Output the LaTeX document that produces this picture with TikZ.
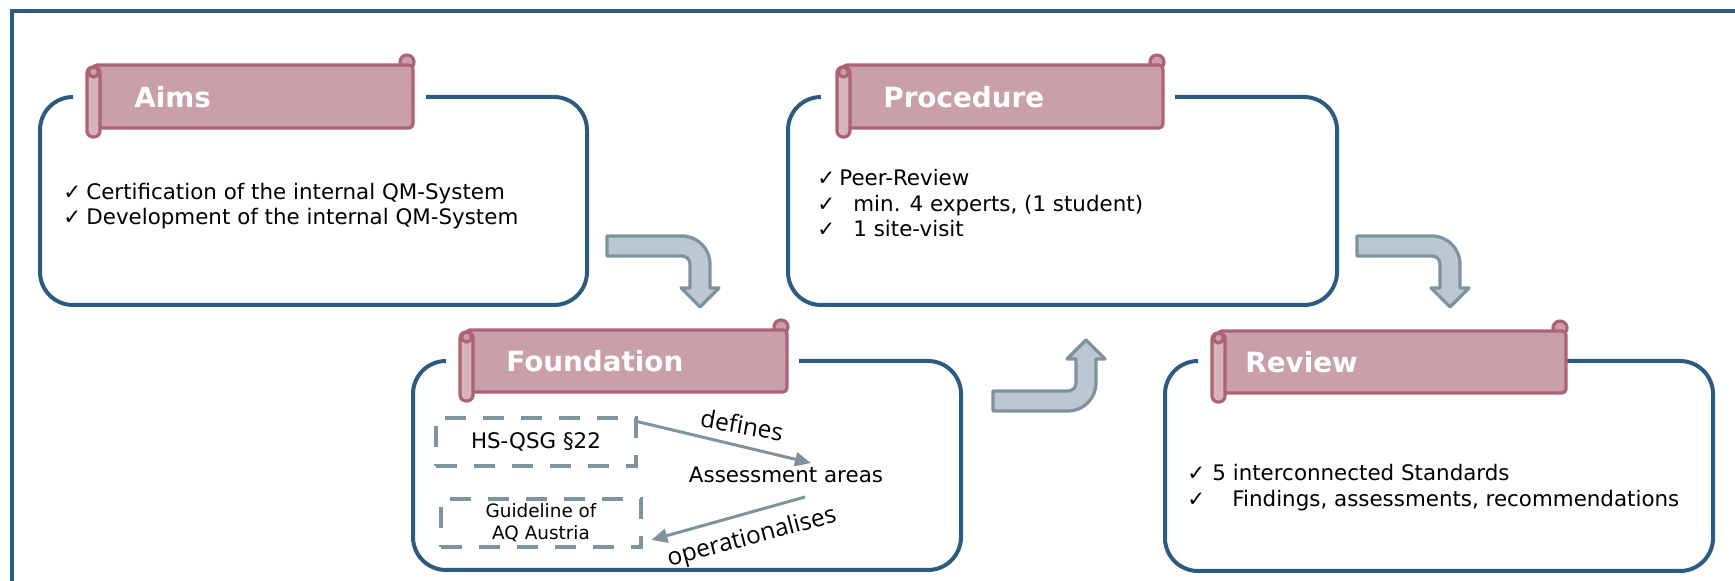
\documentclass[tikz,border=0pt]{standalone}
\usepackage{fontspec}
\setmainfont{DejaVu Sans}
\newfontfamily\lblfont{Open Sans}
\usetikzlibrary{arrows.meta,calc}
\definecolor{boxblue}{RGB}{44,91,130}
\definecolor{banfill}{RGB}{201,160,168}
\definecolor{banline}{RGB}{172,100,116}
\definecolor{rollfill}{RGB}{214,180,186}
\definecolor{arrfill}{RGB}{188,200,209}
\definecolor{arrline}{RGB}{127,147,159}
\newcommand\ck[1]{\makebox[#1][l]{✓}}
\tikzset{
  boxline/.style={draw=boxblue,line width=2pt},
  banstyle/.style={fill=banfill,draw=banline,line width=1.6pt},
  bigarr/.style={fill=arrfill,draw=arrline,line width=1.6pt,line join=round},
  hdr/.style={text=white,font=\fontsize{13.9}{16}\selectfont\bfseries,inner sep=0pt,anchor=base west},
  body/.style={font=\fontsize{10.7}{13}\selectfont,inner sep=0pt,anchor=base west},
  dbox/.style={draw=arrline,line width=2.4pt,dash pattern=on 10.5pt off 8.5pt,minimum width=100pt,minimum height=24pt,inner sep=0pt,align=center},
  lbl/.style={font=\lblfont\fontsize{12.2}{14}\selectfont,inner sep=0pt},
  thinarr/.style={draw=arrline,line width=1.5pt,-{Triangle[length=8pt,width=7pt]}}
}
\newcommand\roundbox[5]{%
  \draw[boxline] (#5,#2) -- ({#3-33},#2) arc[start angle=-90,end angle=0,radius=33]
    -- (#3,{#4-33}) arc[start angle=0,end angle=90,radius=33]
    -- ({#1+33},#4) arc[start angle=90,end angle=180,radius=33]
    -- (#1,{#2+33}) arc[start angle=180,end angle=270,radius=33];}
\newcommand\scrollbanner[5]{%
  \draw[banstyle] ({#3-6},{#2-3}) circle[radius=7];
  \draw[banstyle,rounded corners=2pt] ({#1+6},#2) rectangle (#3,#4);
  \draw[banstyle,fill=rollfill,rounded corners=3pt] (#1,{#2+2}) rectangle ({#1+13},#5);
  \draw[banstyle] ({#1+6.5},{#2+7}) circle[radius=5];}
\newcommand\bendarrow{%
  \draw[bigarr] (607,236) -- (682,236) arc[start angle=-90,end angle=0,radius=28]
    -- (710,288) -- (719,288) -- (700,307) -- (681,288) -- (690,288) -- (690,264)
    arc[start angle=0,end angle=-90,radius=8] -- (607,256) -- cycle;}
\begin{document}
\begin{tikzpicture}[x=0.5pt,y=-0.5pt]
\useasboundingbox (0,0) rectangle (1735,581);
% outer frame
\draw[boxline] (12,600) -- (12,11) -- (1760,11);
% boxes
\roundbox{40}{97}{587}{305}{426}
\roundbox{788}{97}{1337}{305}{1175}
\roundbox{413}{361}{961}{570}{799}
\roundbox{1165}{361}{1713}{571}{1566}
% banners
\scrollbanner{87}{65}{413}{128}{137}
\scrollbanner{837}{65}{1163}{128}{137}
\scrollbanner{460}{330}{787}{392}{401}
\scrollbanner{1212}{331}{1566}{393}{402}
\node[hdr] (aimsH) at (134,108) {Aims};
\node[hdr] (procH) at (883,108) {Procedure};
\node[hdr] (foundH) at (506,372) {Foundation};
\node[hdr] (revH) at (1245,373) {Review};
% big arrows
\bendarrow
\begin{scope}[shift={(750,0)}]\bendarrow\end{scope}
\begin{scope}[shift={(386,647)},yscale=-1]\bendarrow\end{scope}
% texts
\node[body] (a1) at (63,200) {\ck{11.5pt}Certification of the internal QM-System};
\node[body] (a2) at (63,225) {\ck{11.5pt}Development of the internal QM-System};
\node[body] (p1) at (817,186) {\ck{11pt}Peer-Review};
\node[body] (p2) at (817,212) {\ck{18pt}min. 4 experts, (1 student)};
\node[body] (p3) at (817,237) {\ck{18pt}1 site-visit};
\node[body] (r1) at (1187,481) {\ck{12.5pt}5 interconnected Standards};
\node[body] (r2) at (1187,507) {\ck{22.5pt}Findings, assessments, recommendations};
% foundation content
\node[dbox,font=\fontsize{10.7}{13}\selectfont] (hs) at (536,442) {HS-QSG §22};
\node[dbox,font=\fontsize{9.2}{11}\selectfont] (guide) at (541,523) {Guideline of\\AQ Austria};
\node[font=\fontsize{10.7}{13}\selectfont,inner sep=0pt] (assess) at (786,475) {Assessment areas};
\draw[thinarr] ($(hs.north east)+(-1,6)$) -- ($(assess.center)+(25,-12)$);
\draw[thinarr] ($(assess.center)+(19,22)$) -- ($(guide.east)+(8,17)$);
\node[lbl,rotate=-10] (defl) at (742,425) {defines};
\node[lbl,rotate=15] (opl) at (752,538) {operationalises};
\end{tikzpicture}
\end{document}
